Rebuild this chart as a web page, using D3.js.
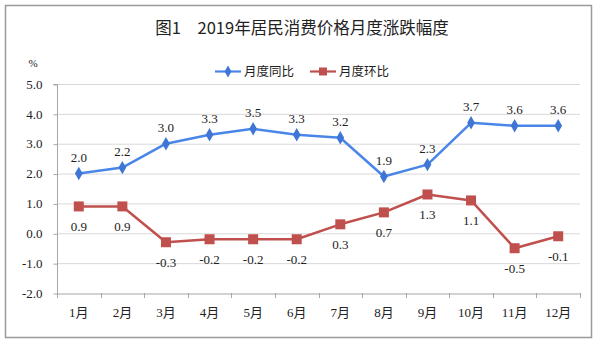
<!DOCTYPE html>
<html>
<head>
<meta charset="utf-8">
<script src="https://cdn.jsdelivr.net/npm/d3@7"></script>
<style>
  html, body { margin: 0; padding: 0; background: #fff; }
  svg { display: block; }
</style>
</head>
<body>
<svg id="chart" width="600" height="344"></svg>
<script>
// Monthly CPI change, 2019
const months = ["1月","2月","3月","4月","5月","6月","7月","8月","9月","10月","11月","12月"];
const yoy = [2.0, 2.2, 3.0, 3.3, 3.5, 3.3, 3.2, 1.9, 2.3, 3.7, 3.6, 3.6];   // 月度同比
const mom = [0.9, 0.9, -0.3, -0.2, -0.2, -0.2, 0.3, 0.7, 1.3, 1.1, -0.5, -0.1]; // 月度环比
const yTicks = [5, 4, 3, 2, 1, 0, -1, -2];
const seriesNames = ["月度同比", "月度环比"];
const title = "图1　2019年居民消费价格月度涨跌幅度";

const svg = d3.select("#chart");
const serif = "'Liberation Serif', 'Times New Roman', 'Noto Sans CJK SC', serif";
const sans = "'Noto Sans CJK SC', sans-serif";

const blue = "#4a86e8", blueMark = "#3f76d6";
const red = "#c0504d";

// one decimal, plain hyphen for negatives
const fmt = v => v.toFixed(1);

// outer frame
svg.append("rect")
  .attr("x", 5.5).attr("y", 5.5).attr("width", 586).attr("height", 332)
  .attr("fill", "#fff").attr("stroke", "#9a9a9a").attr("stroke-width", 1.5);

// title
svg.append("text")
  .attr("x", 302).attr("y", 34)
  .attr("text-anchor", "middle")
  .attr("font-family", sans).attr("font-size", 16.5)
  .attr("fill", "#222")
  .text(title);

const plot = { left: 57, right: 580, top: 84, bottom: 293 };

const x = d3.scaleBand().domain(months).range([plot.left, plot.right]);
const y = d3.scaleLinear().domain([-2, 5]).range([plot.bottom, plot.top]);

// horizontal gridlines
svg.append("g").selectAll("line")
  .data(yTicks.filter(d => d !== -2))
  .join("line")
  .attr("x1", plot.left).attr("x2", plot.right)
  .attr("y1", d => y(d) + 0.5).attr("y2", d => y(d) + 0.5)
  .attr("stroke", "#d9d9d9").attr("stroke-width", 1);

// y axis
const yAxis = svg.append("g")
  .attr("transform", `translate(${plot.left + 0.5},0)`)
  .call(d3.axisLeft(y).tickValues(yTicks).tickFormat(fmt).tickSize(4).tickPadding(11));
yAxis.select(".domain").attr("stroke", "#a6a6a6").attr("d", `M-4,${plot.top + 0.5}H0V${plot.bottom + 0.5}`);
yAxis.selectAll(".tick line").attr("stroke", "#a6a6a6").attr("transform", "translate(0,0.5)");
yAxis.selectAll(".tick text")
  .attr("font-family", serif).attr("font-size", 13).attr("fill", "#222");

// x axis
const xAxis = svg.append("g")
  .attr("transform", `translate(0,${plot.bottom + 0.5})`)
  .call(d3.axisBottom(x).tickSize(0).tickPadding(14));
xAxis.select(".domain").attr("stroke", "#a6a6a6");
xAxis.selectAll(".tick text")
  .attr("font-family", serif).attr("font-size", 13).attr("fill", "#222");
// category boundary ticks
svg.append("g").selectAll("line")
  .data(months.concat(["end"]))
  .join("line")
  .attr("x1", (d, i) => Math.round(plot.left + i * x.step()) + 0.5)
  .attr("x2", (d, i) => Math.round(plot.left + i * x.step()) + 0.5)
  .attr("y1", plot.bottom).attr("y2", plot.bottom + 5)
  .attr("stroke", "#a6a6a6");

// "%" unit
svg.append("text")
  .attr("x", 33).attr("y", 67)
  .attr("text-anchor", "middle")
  .attr("font-family", serif).attr("font-size", 11).attr("fill", "#222")
  .text("%");

const cx = d => x(d) + x.bandwidth() / 2;
const line = d3.line().x(d => cx(d.m)).y(d => y(d.v));

const yoyData = months.map((m, i) => ({ m, v: yoy[i] }));
const momData = months.map((m, i) => ({ m, v: mom[i] }));

// 月度同比
svg.append("path").datum(yoyData)
  .attr("d", line).attr("fill", "none")
  .attr("stroke", blue).attr("stroke-width", 2.5).attr("stroke-linejoin", "round");
const diamond = d3.symbol().type(d3.symbolDiamond).size(52);
svg.append("g").selectAll("path")
  .data(yoyData).join("path")
  .attr("transform", d => `translate(${cx(d.m)},${y(d.v)})`)
  .attr("d", diamond).attr("fill", blueMark);
svg.append("g").selectAll("text")
  .data(yoyData).join("text")
  .attr("x", d => cx(d.m)).attr("y", d => y(d.v) - 12)
  .attr("text-anchor", "middle")
  .attr("font-family", serif).attr("font-size", 13).attr("fill", "#222")
  .text(d => fmt(d.v));

// 月度环比
svg.append("path").datum(momData)
  .attr("d", line).attr("fill", "none")
  .attr("stroke", red).attr("stroke-width", 2.5).attr("stroke-linejoin", "round");
svg.append("g").selectAll("rect")
  .data(momData).join("rect")
  .attr("x", d => cx(d.m) - 5).attr("y", d => y(d.v) - 5)
  .attr("width", 10).attr("height", 10)
  .attr("fill", red);
svg.append("g").selectAll("text")
  .data(momData).join("text")
  .attr("x", d => cx(d.m)).attr("y", d => y(d.v) + 25)
  .attr("text-anchor", "middle")
  .attr("font-family", serif).attr("font-size", 13).attr("fill", "#222")
  .text(d => fmt(d.v));

// legend
const legend = svg.append("g");
const legendItems = [
  { name: seriesNames[0], color: blue, x: 215, mark: "diamond" },
  { name: seriesNames[1], color: red, x: 310, mark: "square" }
];
legendItems.forEach(it => {
  legend.append("line")
    .attr("x1", it.x).attr("x2", it.x + 26)
    .attr("y1", 71.5).attr("y2", 71.5)
    .attr("stroke", it.color).attr("stroke-width", 2.2);
  if (it.mark === "diamond") {
    legend.append("path")
      .attr("transform", `translate(${it.x + 13},71.5)`)
      .attr("d", d3.symbol().type(d3.symbolDiamond).size(40)).attr("fill", blueMark);
  } else {
    legend.append("rect")
      .attr("x", it.x + 9).attr("y", 67.5).attr("width", 8).attr("height", 8)
      .attr("fill", it.color);
  }
  legend.append("text")
    .attr("x", it.x + 29).attr("y", 76)
    .attr("font-family", sans).attr("font-size", 12.5).attr("fill", "#222")
    .text(it.name);
});
</script>
</body>
</html>
